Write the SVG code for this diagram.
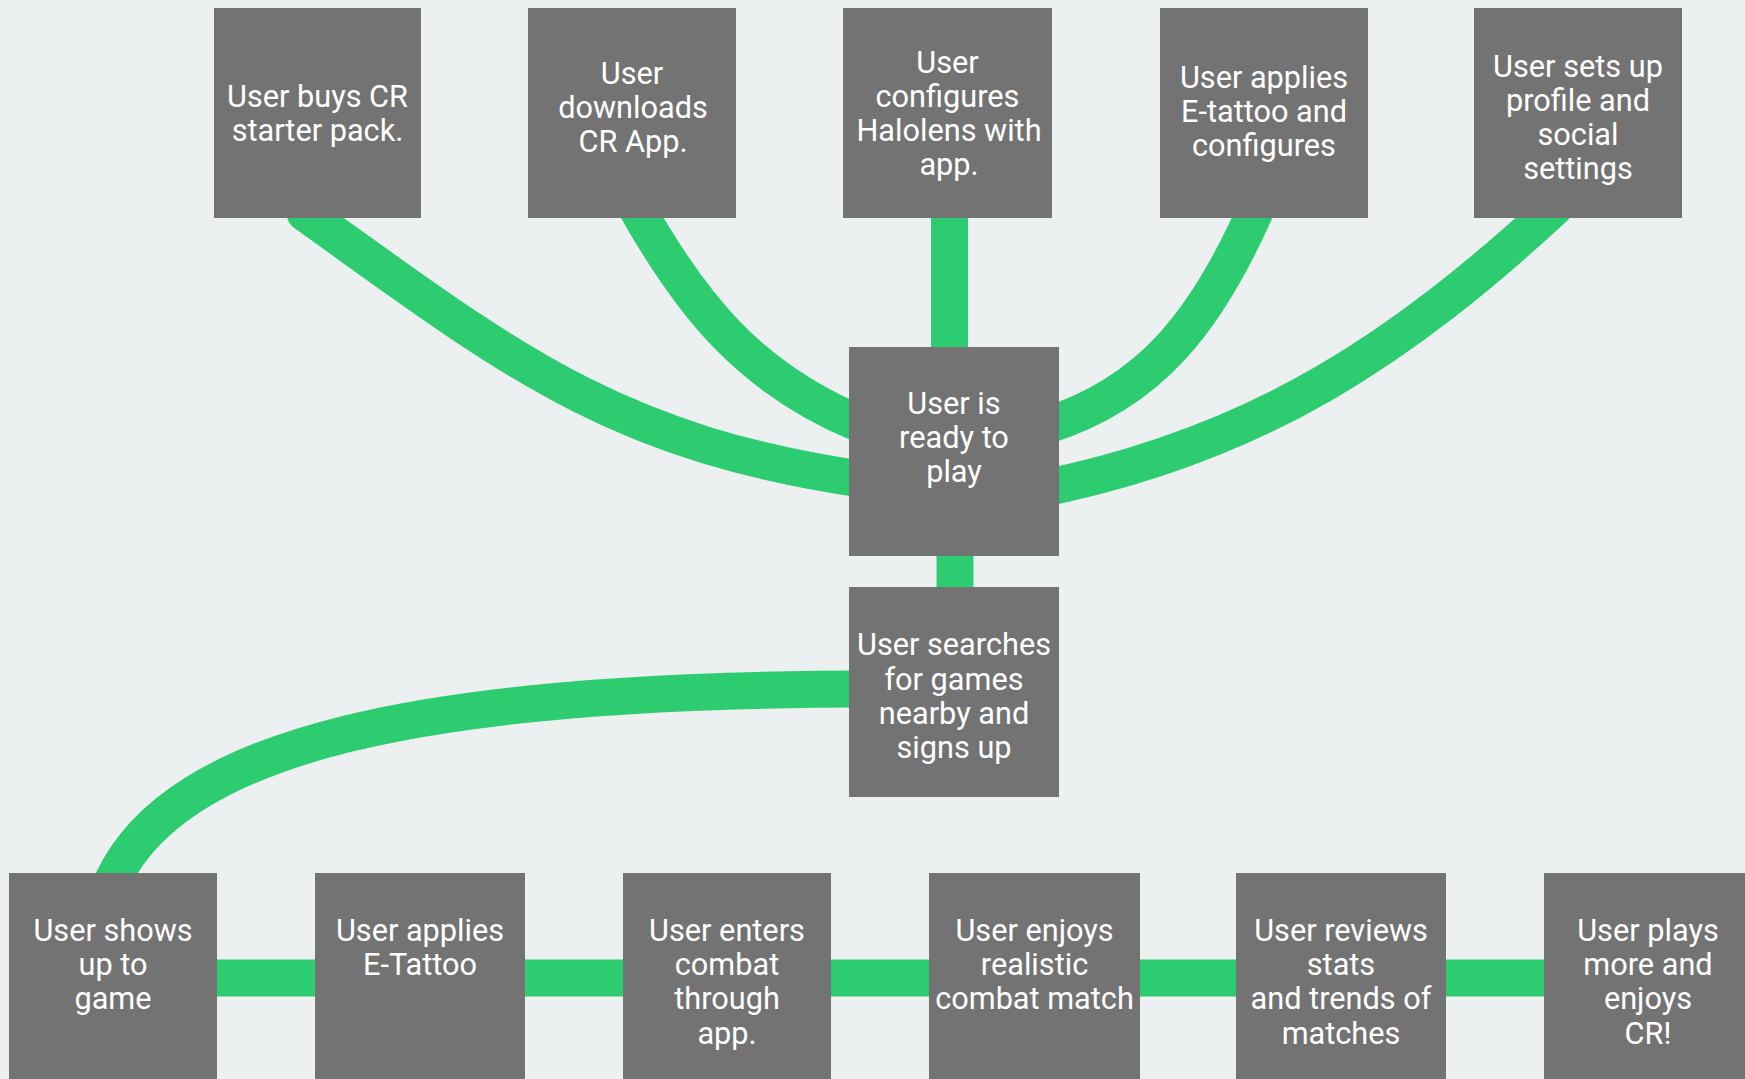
<svg xmlns="http://www.w3.org/2000/svg" width="1745" height="1079" viewBox="0 0 1745 1079">
<style>
.bg{fill:#ECF0F1}
.node rect{fill:#737373}
.node text{fill:#FFFFFF;font-family:Roboto,"Liberation Sans",sans-serif;font-size:30.7px;text-anchor:middle}
.conn path,.conn line{fill:none;stroke:#2ECC71;stroke-width:37;stroke-linecap:round}
</style>
<rect class="bg" x="0" y="0" width="1745" height="1079"/>
<g id="connectors" class="conn">
<path d="M305 213 C505 356 610 442 860 479"/>
<path d="M632 200 C691 306 749.6 378 860 424"/>
<line x1="949.5" y1="200" x2="949.5" y2="360"/>
<path d="M1260 200 C1208 321 1149.5 394 1045 426"/>
<path d="M1555 207 C1405 345 1263 444 1040 489"/>
<line x1="955" y1="540" x2="955" y2="600"/>
<path d="M113 880 C177.5 745 420 689 870 689"/>
<line x1="200" y1="978" x2="330" y2="978"/>
<line x1="510" y1="978" x2="640" y2="978"/>
<line x1="820" y1="978" x2="940" y2="978"/>
<line x1="1130" y1="978" x2="1250" y2="978"/>
<line x1="1430" y1="978" x2="1560" y2="978"/>
</g>
<g id="n1" class="node"><rect x="214" y="8" width="207" height="210"/>
<text x="317.5" y="106.5">User buys CR</text><text x="317.5" y="141">starter pack.</text></g>
<g id="n2" class="node"><rect x="528" y="8" width="208" height="210"/>
<text x="632" y="84">User</text><text x="633" y="118">downloads</text><text x="633" y="152">CR App.</text></g>
<g id="n3" class="node"><rect x="843" y="8" width="209" height="210"/>
<text x="947.5" y="73">User</text><text x="947.5" y="107">configures</text><text x="949" y="141">Halolens with</text><text x="949" y="175">app.</text></g>
<g id="n4" class="node"><rect x="1160" y="8" width="208" height="210"/>
<text x="1264" y="87.5">User applies</text><text x="1264" y="121.5">E-tattoo and</text><text x="1264" y="155.5">configures</text></g>
<g id="n5" class="node"><rect x="1474" y="8" width="208" height="210"/>
<text x="1578" y="77">User sets up</text><text x="1578" y="111">profile and</text><text x="1578" y="145">social</text><text x="1578" y="179">settings</text></g>
<g id="ready" class="node"><rect x="849" y="347" width="210" height="209"/>
<text x="954" y="414">User is</text><text x="954" y="448">ready to</text><text x="954" y="482">play</text></g>
<g id="search" class="node"><rect x="849" y="587" width="210" height="210"/>
<text x="954" y="655">User searches</text><text x="954" y="689.5">for games</text><text x="954" y="724">nearby and</text><text x="954" y="758">signs up</text></g>
<g id="b1" class="node"><rect x="9" y="873" width="208" height="210"/>
<text x="113" y="940.5">User shows</text><text x="113" y="975">up to</text><text x="113" y="1009">game</text></g>
<g id="b2" class="node"><rect x="315" y="873" width="210" height="210"/>
<text x="420" y="940.5">User applies</text><text x="420" y="975">E-Tattoo</text></g>
<g id="b3" class="node"><rect x="623" y="873" width="208" height="210"/>
<text x="727" y="940.5">User enters</text><text x="727" y="975">combat</text><text x="727" y="1009">through</text><text x="727" y="1043.5">app.</text></g>
<g id="b4" class="node"><rect x="929" y="873" width="211" height="210"/>
<text x="1034.5" y="940.5">User enjoys</text><text x="1034.5" y="975">realistic</text><text x="1034.5" y="1009">combat match</text></g>
<g id="b5" class="node"><rect x="1236" y="873" width="210" height="210"/>
<text x="1341" y="940.5">User reviews</text><text x="1341" y="975">stats</text><text x="1341" y="1009">and trends of</text><text x="1341" y="1043.5">matches</text></g>
<g id="b6" class="node"><rect x="1544" y="873" width="208" height="210"/>
<text x="1648" y="940.5">User plays</text><text x="1648" y="975">more and</text><text x="1648" y="1009">enjoys</text><text x="1648" y="1043.5">CR!</text></g>
</svg>
